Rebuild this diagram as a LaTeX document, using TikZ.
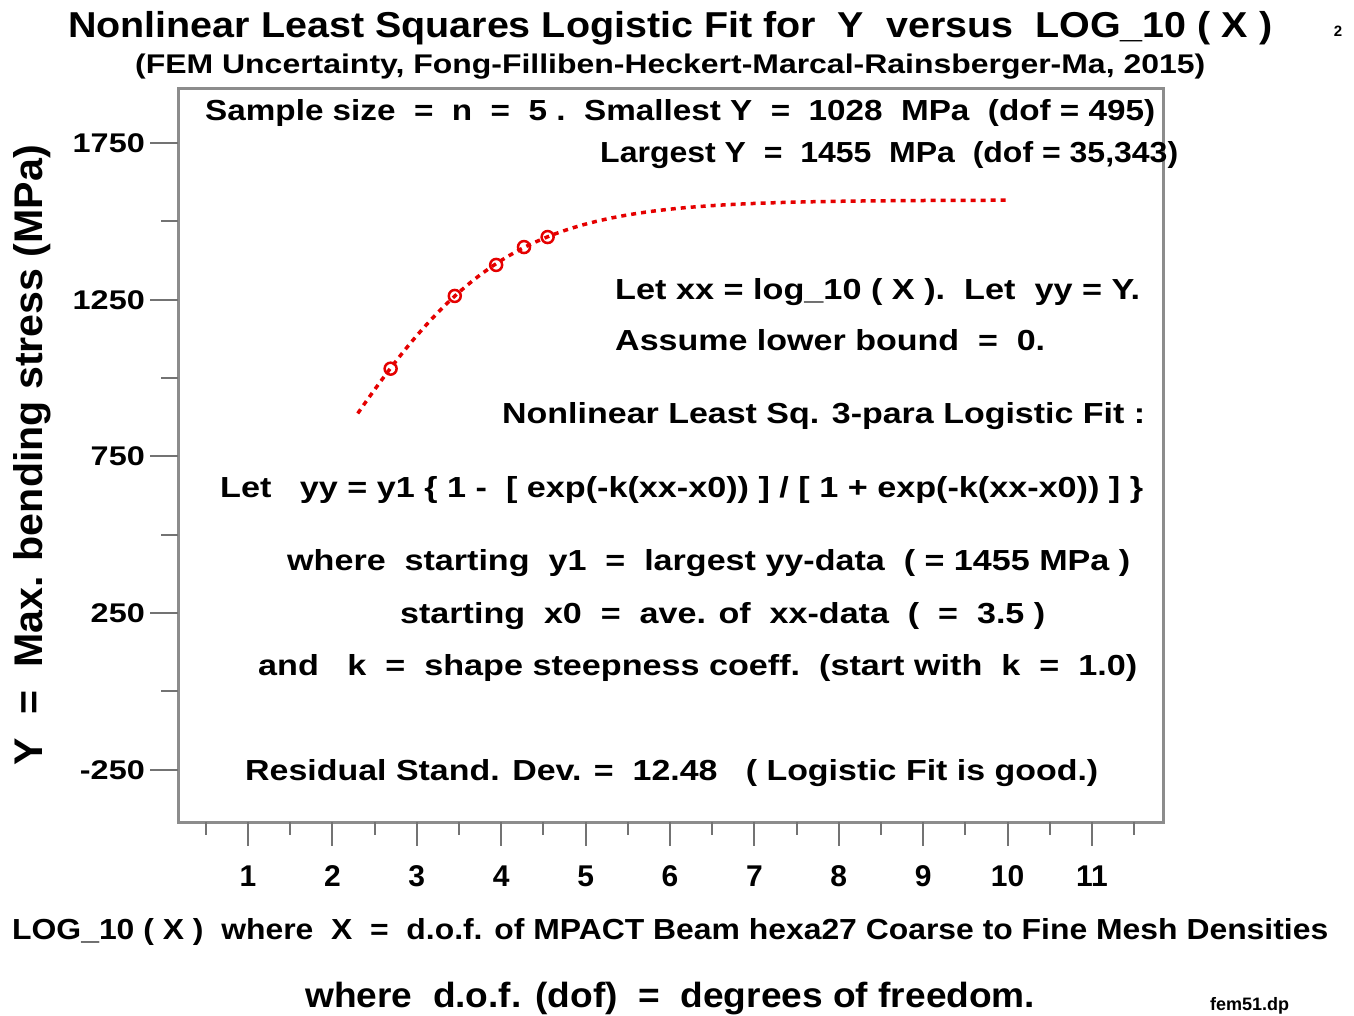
\documentclass[tikz,border=0pt]{standalone}
\usepackage{graphicx}
\usepackage{fontspec}
\setmainfont{Liberation Sans}
% stretch a text horizontally to a given width (in pt), keeping its height
\newcommand\fw[2]{\resizebox{#1pt}{\height}{#2}}
\begin{document}
\begin{tikzpicture}[x=1pt,y=-1pt,
  txt/.style={inner sep=0pt, anchor=base west, font=\fontsize{29}{32}\selectfont\bfseries},
  ticklab/.style={inner sep=0pt, font=\fontsize{30}{32}\selectfont\bfseries},
  yticklab/.style={inner sep=0pt, font=\fontsize{27}{30}\selectfont\bfseries},
  frame/.style={draw=black!45, line width=3pt},
  tickline/.style={draw=black!55, line width=2pt},
  datapt/.style={draw=red!90!black, line width=2.5pt},
  fitcurve/.style={draw=red!90!black, line width=3.5pt, dash pattern=on 5pt off 5pt}]
\useasboundingbox (0,0) rectangle (1354,1015);
% plot frame
\draw[frame] (178,88) rectangle (1163,822);
% x ticks: majors at 1..11, minors at the halves
\foreach \i in {1,...,11}{
  \draw[tickline] ({163.6+84.4*\i},822) -- ({163.6+84.4*\i},846);
  \node[ticklab, anchor=base] (xl\i) at ({163.6+84.4*\i},886) {\i};
}
\foreach \i in {0,...,11}{
  \draw[tickline] ({163.6+84.4*(\i+0.5)},822) -- ({163.6+84.4*(\i+0.5)},835);
}
% y ticks: majors every 500, minors in between
\foreach \v/\p in {1750/143,1250/299.7,750/456.4,250/613.1,-250/769.8}{
  \draw[tickline] (150,\p) -- (178,\p);
  \node[yticklab, anchor=east] (yl\v) at (145,\p) {\scalebox{1.2}[1]{\v}};
}
\foreach \p in {221.35,378.05,534.75,691.45}{
  \draw[tickline] (161,\p) -- (178,\p);
}
% fitted logistic curve and the five data points
\draw[fitcurve] plot[domain=2.3:10, samples=80, smooth]
  ({163.6+84.4*\x},{691.45-0.3134*1568/(1+exp(-(\x-2.035)))});
\foreach \x/\y [count=\k] in {2.69/1030,3.45/1262,3.94/1361,4.27/1418,4.55/1450}{
  \draw[datapt] ({163.6+84.4*\x},{691.45-0.3134*\y}) circle (6);
}
% titles
\node[inner sep=0pt, anchor=base west, font=\fontsize{36}{38}\selectfont\bfseries] (title) at (68,37)
  {\fw{1204}{Nonlinear Least Squares Logistic Fit for~~Y~~versus~~LOG\_10 ( X )}};
\node[inner sep=0pt, anchor=base west, font=\fontsize{27}{29}\selectfont\bfseries] (subtitle) at (135,73)
  {\fw{1070}{(FEM Uncertainty, Fong-Filliben-Heckert-Marcal-Rainsberger-Ma, 2015)}};
\node[inner sep=0pt, anchor=base, font=\fontsize{15}{16}\selectfont\bfseries] (pageno) at (1338,36) {2};
% annotation text inside the frame
\node[txt] (t1) at (205,120) {\fw{950}{Sample size~~=~~n~~=~~5~.~~Smallest Y~~=~~1028~~MPa~~(dof = 495)}};
\node[txt] (t2) at (600,162) {\fw{578}{Largest Y~~=~~1455~~MPa~~(dof = 35,343)}};
\node[txt] (t3) at (615,299) {\fw{525}{Let xx = log\_10 ( X ).~~Let~~yy = Y.}};
\node[txt] (t4) at (615,350) {\fw{430}{Assume lower bound~~=~~0.}};
\node[txt] (t5) at (502,423) {\fw{643}{Nonlinear Least Sq. 3-para Logistic Fit :}};
\node[txt] (t6) at (220,497) {\fw{923}{Let~~~yy = y1 \{ 1 -~~[ exp(-k(xx-x0)) ] / [ 1 + exp(-k(xx-x0)) ] \}}};
\node[txt] (t7) at (287,570) {\fw{843}{where~~starting~~y1~~=~~largest yy-data~~( = 1455 MPa )}};
\node[txt] (t8) at (400,623) {\fw{645}{starting~~x0~~=~~ave. of~~xx-data~~(~~=~~3.5 )}};
\node[txt] (t9) at (258,675) {\fw{879}{and~~~k~~=~~shape steepness coeff.~~(start with~~k~~=~~1.0)}};
\node[txt] (t10) at (245,780) {\fw{853}{Residual Stand. Dev. =~~12.48~~~( Logistic Fit is good.)}};
% axis labels
\node[inner sep=0pt, anchor=center, rotate=90, font=\fontsize{40}{42}\selectfont\bfseries] (ylab) at (32,455)
  {\fw{620}{Y~~=~~Max. bending stress (MPa)}};
\node[txt] (xlab) at (12,939) {\fw{1316}{LOG\_10 ( X )~~where~~X~~=~~d.o.f. of MPACT Beam hexa27 Coarse to Fine Mesh Densities}};
\node[txt, font=\fontsize{35}{37}\selectfont\bfseries] (xlab2) at (305,1007) {\fw{730}{where~~d.o.f. (dof)~~=~~degrees of freedom.}};
\node[inner sep=0pt, anchor=base west, font=\fontsize{18}{20}\selectfont\bfseries] (fname) at (1210,1010) {fem51.dp};
\end{tikzpicture}
\end{document}
